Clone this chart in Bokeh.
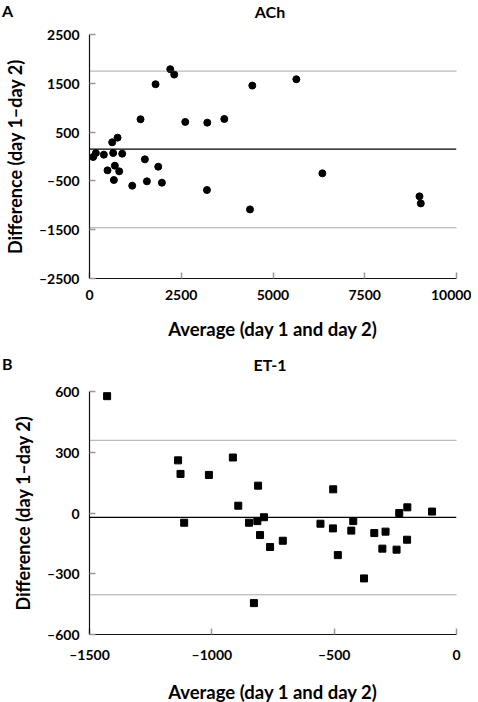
from bokeh.plotting import figure
from bokeh.layouts import column
from bokeh.models import Range1d, FixedTicker, Span, Div, CustomJSTickFormatter
from bokeh.embed import file_html
from bokeh.resources import INLINE

# Panel A: ACh
ach_avg = [100, 173, 391, 645, 618, 764, 891, 491, 691, 809, 664, 1164, 1391, 1509,
           1564, 1800, 1873, 1973, 2200, 2309, 2609, 3209, 3200, 3673, 4373, 4436,
           5636, 6345, 8991, 9027]
ach_diff = [-10, 70, 38, 72, 291, 386, 58, -284, -188, -304, -482, -598, 763, -58,
            -509, 1481, -209, -537, 1789, 1679, 708, 694, -687, 769, -1084, 1453,
            1583, -345, -817, -961]
ach_mean = 150
ach_upper = 1750
ach_lower = -1460
ach_xticks = [0, 2500, 5000, 7500, 10000]
ach_yticks = [-2500, -1500, -500, 500, 1500, 2500]

# Panel B: ET-1
et_avg = [-1428, -1138, -1128, -1113, -1012, -914, -892, -848, -828, -814, -811, -803,
          -787, -762, -710, -556, -504, -505, -485, -430, -422, -378, -336, -303, -290,
          -245, -234, -201, -202, -100]
et_diff = [577, 260, 193, -48, 188, 274, 36, -48, -445, -40, 135, -109, -21, -168,
           -137, -53, 117, -76, -208, -87, -40, -323, -99, -176, -92, -181, 0, 28,
           -132, 7]
et_mean = -22
et_upper = 359
et_lower = -404
et_xticks = [-1500, -1000, -500, 0]
et_yticks = [-600, -300, 0, 300, 600]

FONT = "Lato"
fmt_code = "return tick < 0 ? '\\u2013' + Math.abs(tick) : String(tick);"


def header(letter, title, height, top):
    html = (
        f'<div style="position:relative;width:478px;height:{height}px;'
        f'font-family:Lato;font-weight:bold;color:black;">'
        f'<span style="position:absolute;left:2px;top:{top - 1}px;font-size:16px;'
        f'line-height:16px;">{letter}</span>'
        f'<span style="position:absolute;left:220px;width:100px;text-align:center;'
        f'top:{top}px;font-size:16px;line-height:16px;">{title}</span></div>'
    )
    return Div(text=html, width=478, height=height, margin=(0, 0, 0, 0))


def make_panel(xs, ys, marker, xr, yr, xt, yt, mean, up, lo, fh, top_border,
               bottom_border):
    p = figure(frame_width=367, frame_height=fh,
               x_range=Range1d(*xr), y_range=Range1d(*yr),
               output_backend="svg", toolbar_location=None,
               min_border_left=88, min_border_right=15,
               min_border_top=top_border, min_border_bottom=bottom_border,
               margin=(0, 0, 0, 0))
    p.outline_line_color = None
    p.grid.visible = False
    p.background_fill_color = "white"
    p.border_fill_color = "white"
    for ax in (p.xaxis[0], p.yaxis[0]):
        ax.axis_line_color = "#111111"
        ax.axis_line_width = 1.2
        ax.major_tick_in = 6
        ax.major_tick_out = 0
        ax.major_tick_line_color = "#999999"
        ax.major_tick_line_width = 1.5
        ax.minor_tick_in = 0
        ax.minor_tick_out = 0
        ax.major_label_text_font = FONT
        ax.major_label_text_font_style = "bold"
        ax.major_label_text_font_size = "14px"
        ax.major_label_text_color = "black"
        ax.axis_label_text_font = FONT
        ax.axis_label_text_font_style = "bold"
        ax.axis_label_text_color = "black"
        ax.formatter = CustomJSTickFormatter(code=fmt_code)
    p.xaxis[0].ticker = FixedTicker(ticks=xt)
    p.yaxis[0].ticker = FixedTicker(ticks=yt)
    p.xaxis[0].axis_label = "Average (day 1 and day 2)"
    p.yaxis[0].axis_label = "Difference (day 1\u2013day 2)"
    p.xaxis[0].axis_label_text_font_size = "18.5px"
    p.yaxis[0].axis_label_text_font_size = "18px"
    p.xaxis[0].major_label_standoff = 11
    p.xaxis[0].axis_label_standoff = 15
    p.yaxis[0].major_label_standoff = 10
    p.yaxis[0].axis_label_standoff = 10

    p.add_layout(Span(location=up, dimension="width", line_color="#555555",
                      line_dash="1 1", line_width=1))
    p.add_layout(Span(location=lo, dimension="width", line_color="#555555",
                      line_dash="1 1", line_width=1))
    p.add_layout(Span(location=mean, dimension="width", line_color="black",
                      line_width=1.3))

    p.scatter(xs, ys, marker=marker, size=7, fill_color="black", line_color="black")
    return p


head_a = header("A", "ACh", 22, 4)
pa = make_panel(ach_avg, ach_diff, "circle", (0, 10000), (-2500, 2500),
                ach_xticks, ach_yticks, ach_mean, ach_upper, ach_lower,
                244, 12, 65)
head_b = header("B", "ET-1", 32, 14)
pb = make_panel(et_avg, et_diff, "square", (-1500, 0), (-600, 600),
                et_xticks, et_yticks, et_mean, et_upper, et_lower,
                243, 16, 65)

layout = column(head_a, pa, head_b, pb, spacing=0, margin=(0, 0, 0, 0))
open("out.html", "w").write(file_html(layout, INLINE))
